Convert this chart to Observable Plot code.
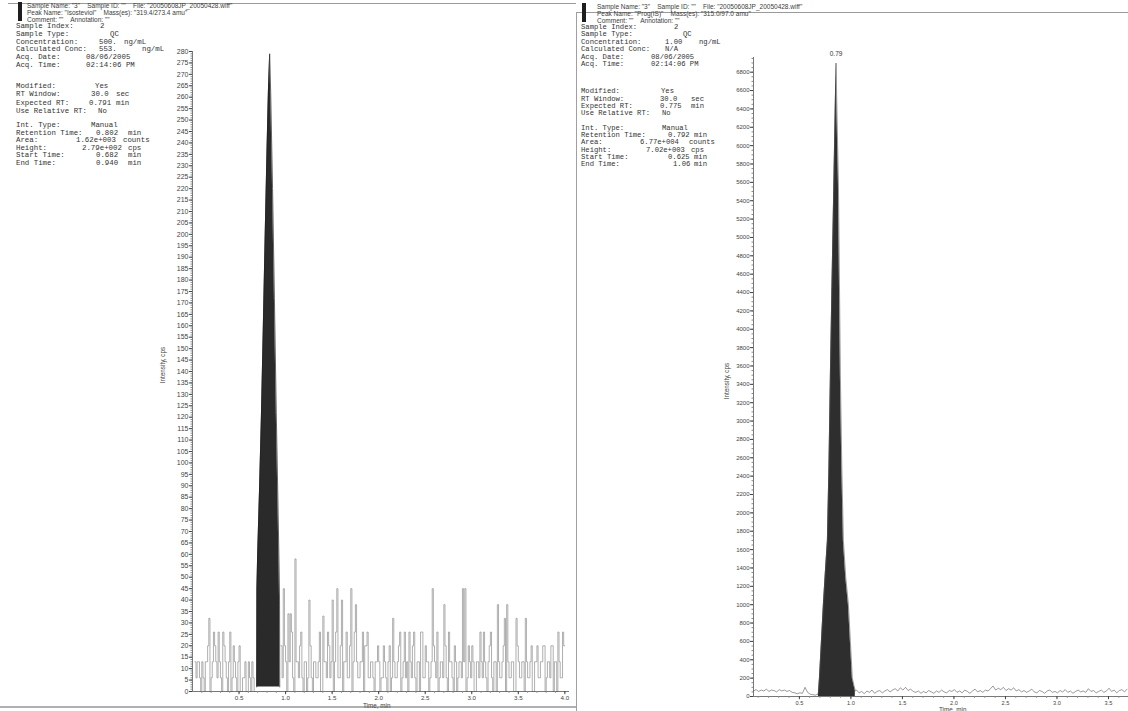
<!DOCTYPE html>
<html>
<head>
<meta charset="utf-8">
<script src="https://cdn.jsdelivr.net/npm/d3@7"></script>
<script src="https://cdn.jsdelivr.net/npm/@observablehq/plot@0.6"></script>
<style>
  html, body { margin: 0; padding: 0; background: #fff; }
  #page { position: relative; width: 1128px; height: 711px; overflow: hidden; background: #fff;
          font-family: "Liberation Sans", Arial, sans-serif; color: #333; }
  .t { position: absolute; white-space: pre; line-height: 8px; height: 8px; }
  .hdr { font-family: "Liberation Sans", Arial, sans-serif; font-size: 6.5px; color: #3c3c3c; }
  .monoL { font-family: "Liberation Mono", "DejaVu Sans Mono", monospace; font-size: 7.4px; color: #333; }
  .monoR { font-family: "Liberation Mono", "DejaVu Sans Mono", monospace; font-size: 7.2px; color: #333; }
  .lab { font-family: "Liberation Sans", Arial, sans-serif; font-size: 6.3px; color: #444; }
  .box { position: absolute; }
  .plot { position: absolute; top: 0; }
</style>
</head>
<body>
<div id="page"></div>
<script>
// ---------------- DATA ----------------
// Left chromatogram: Isosteviol 319.4/273.4 amu (intensity, cps)
const leftStep = 0.025;
const leftNoiseBeforeStart = 0.025;
const leftNoiseBefore = [13,13,6,13,0,13,32,6,26,13,26,6,26,13,0,26,6,13,0,20,0,6,0,13,0,6,0];
const leftNoiseMidBeforeStart = 0.0375;
const leftNoiseMidBefore = [6,13,0,6,13,20,0,13,20,6,13,0,20,6,13,0,20,6,13,0,6,13,0,6,13,0];
const leftNoiseAfterStart = 0.95;
const leftNoiseAfter = [20,45,13,34,34,6,58,13,20,6,13,0,40,6,13,6,13,0,33,13,26,6,40,13,45,6,40,13,26,6,45,13,38,6,13,26,20,26,6,13,0,13,
  13,6,20,6,13,0,32,6,13,26,6,26,13,26,6,26,0,13,26,6,20,13,6,45,13,26,6,13,38,6,26,13,0,13,6,13,45,45,6,13,20,0,13,6,13,26,6,13,26,0,
  13,38,6,13,32,38,6,13,0,32,13,6,13,32,6,13,0,13,20,6,13,20,6,13,20,0,13,26,6,26,20];
const leftNoiseMidAfterStart = 0.9625;
const leftNoiseMidAfter = [6,20,0,13,26,0,13,6,26,0,13,6,20,0,13,6,26,0,13,6,20,13,0,26,6,20,0,13,6,20,0,26,13,6,13,0,20,6,13,6,
  13,20,0,6,13,0,20,6,13,6,20,0,13,6,0,13,20,6,13,0,26,6,13,0,13,20,6,0,13,6,20,0,13,6,20,0,13,6,13,0,20,6,13,0,13,26,6,13,0,20,
  6,13,0,13,6,20,0,13,6,13,0,20,6,13,0,13,6,20,0,13,6,13,20,0,13,6,20,13,0,13,6,20];
const leftPeakTime  = [0.690,0.692,0.700,0.720,0.740,0.760,0.780,0.800,0.815,0.829,0.840,0.860,0.880,0.900,0.920,0.930,0.935,0.937];
const leftPeakValue = [2,45,60,88,120,158,198,236,262,279,262,220,172,122,78,55,40,2];
const leftPeakBase = 2;
const leftXTicks = [0.5,1.0,1.5,2.0,2.5,3.0,3.5,4.0];
const leftYTicks = d3.range(0, 281, 5);

// Right chromatogram: Prog(IS) 315.0/97.0 amu (intensity, cps)
const rightStep = 0.025;
const rightNoiseBeforeStart = 0.055;
const rightNoiseBefore = [60,75,55,70,60,80,55,70,65,50,75,60,70,55,65,45,40,30,40,35,100,45,25,20,15,25];
const rightNoiseAfterStart = 1.055;
const rightNoiseAfter = [70,40,55,30,60,45,70,35,55,65,40,60,75,50,70,85,60,95,70,100,65,80,55,45,60,35,55,40,65,50,35,60,45,70,50,40,
  65,55,75,45,60,40,70,55,35,60,80,50,65,45,70,60,85,115,70,90,75,100,65,85,70,95,60,75,50,65,45,60,80,50,40,65,55,35,60,70,45,55,40,
  65,50,75,45,60,35,55,70,50,60,45,85,55,65,40,55,70,45,60,90,55,70,40,65,75,50,80];
const rightPeakTime  = [0.685,0.695,0.714,0.733,0.752,0.772,0.787,0.801,0.815,0.830,0.843,0.856,0.866,0.879,0.889,0.898,0.912,0.927,0.950,0.976,0.995,1.014,1.030,1.043];
const rightPeakValue = [40,200,600,1000,1350,1700,2500,3500,4400,5300,6100,6900,6300,5600,4500,3500,2500,1700,1300,1000,600,200,120,60];
const rightPeakLabel = "0.79";
const rightXTicks = [0.5,1.0,1.5,2.0,2.5,3.0,3.5];
const rightYTicks = d3.range(0, 6801, 200);

// ---------------- TABLES ----------------
const leftNoise = [
  ...leftNoiseBefore.map((v, i) => ({t: leftNoiseBeforeStart + i * leftStep, v, seg: "a"})),
  ...leftNoiseMidBefore.map((v, i) => ({t: leftNoiseMidBeforeStart + i * leftStep, v, seg: "a"})),
  ...leftNoiseAfter.map((v, i) => ({t: leftNoiseAfterStart + i * leftStep, v, seg: "b"})),
  ...leftNoiseMidAfter.map((v, i) => ({t: leftNoiseMidAfterStart + i * leftStep, v, seg: "b"}))
].sort((a, b) => a.t - b.t);
const leftPeak = leftPeakTime.map((t, i) => ({t, v: leftPeakValue[i]}));
const rightPeak = rightPeakTime.map((t, i) => ({t, v: rightPeakValue[i]}));
const rightTrace = [
  ...rightNoiseBefore.map((v, i) => ({t: rightNoiseBeforeStart + i * rightStep, v})),
  ...rightPeak,
  ...rightNoiseAfter.map((v, i) => ({t: rightNoiseAfterStart + i * rightStep, v}))
];
const apex = rightPeak.reduce((a, b) => (b.v > a.v ? b : a));

const page = document.getElementById("page");
const fmt1 = d3.format(".1f");
const plain = d => String(d);
const baseStyle = {background: "transparent", fontFamily: "Liberation Sans, Arial, sans-serif", overflow: "visible"};

// ---------------- LEFT PLOT ----------------
const leftPlot = Plot.plot({
  width: 576, height: 711,
  marginLeft: 192, marginRight: 7, marginTop: 51, marginBottom: 20,
  x: {domain: [0, 4.05], label: null},
  y: {domain: [0, 280], label: null},
  style: baseStyle,
  marks: [
    Plot.line(leftNoise, {x: "t", y: "v", z: "seg", curve: "step-after", stroke: "#8c8c8c", strokeWidth: 0.7}),
    Plot.areaY(leftPeak, {x: "t", y1: leftPeakBase, y2: "v", fill: "#2a2a2a"}),
    Plot.line(leftPeak, {x: "t", y: "v", stroke: "#222", strokeWidth: 0.7}),
    Plot.ruleX([0], {stroke: "#555", strokeWidth: 0.8}),
    Plot.ruleY([0], {stroke: "#555", strokeWidth: 0.8}),
    Plot.axisY({ticks: d3.range(0, 281, 1), tickSize: 1.5, tickFormat: () => "", stroke: "#888"}),
    Plot.axisY({ticks: leftYTicks, tickSize: 3, tickPadding: 1, fontSize: 7, color: "#444", tickFormat: plain}),
    Plot.axisX({ticks: d3.range(0.1, 4.05, 0.1), tickSize: 1.8, tickFormat: () => "", stroke: "#888"}),
    Plot.axisX({ticks: leftXTicks, tickSize: 3.2, tickPadding: 1, fontSize: 6.2, color: "#444", tickFormat: fmt1})
  ]
});
leftPlot.classList.add("plot");
leftPlot.style.left = "0px";
page.append(leftPlot);

// ---------------- RIGHT PLOT ----------------
const rightPlot = Plot.plot({
  width: 552, height: 711,
  marginLeft: 177, marginRight: 0, marginTop: 57, marginBottom: 15,
  x: {domain: [0.055, 3.694], label: null},
  y: {domain: [0, 6960], label: null},
  style: baseStyle,
  marks: [
    Plot.areaY(rightPeak, {x: "t", y: "v", fill: "#2e2e2e"}),
    Plot.line(rightTrace, {x: "t", y: "v", stroke: "#555", strokeWidth: 0.6}),
    Plot.ruleX([0.055], {stroke: "#555", strokeWidth: 0.8}),
    Plot.ruleY([0], {stroke: "#555", strokeWidth: 0.8}),
    Plot.axisY({ticks: d3.range(0, 6951, 50), tickSize: 1.5, tickFormat: () => "", stroke: "#888"}),
    Plot.axisY({ticks: rightYTicks, tickSize: 3, tickPadding: 1, fontSize: 6, color: "#444", tickFormat: plain}),
    Plot.axisX({ticks: d3.range(0.1, 3.65, 0.1), tickSize: 1.8, tickFormat: () => "", stroke: "#888"}),
    Plot.axisX({ticks: rightXTicks, tickSize: 3.2, tickPadding: 1.5, fontSize: 5.6, color: "#444", tickFormat: fmt1}),
    Plot.text([apex], {x: "t", y: "v", text: () => rightPeakLabel, dy: -9, fontSize: 6.5, fill: "#333"})
  ]
});
rightPlot.classList.add("plot");
rightPlot.style.left = "576px";
page.append(rightPlot);

// ---------------- TEXT / FRAME ----------------
function txt(x, y, s, cls, extra) {
  const d = document.createElement("div");
  d.className = "t " + cls;
  d.style.left = x + "px";
  d.style.top = (y - 4) + "px";
  d.textContent = s;
  if (extra) Object.assign(d.style, extra);
  page.append(d);
  return d;
}
function box(x, y, w, h, color) {
  const d = document.createElement("div");
  d.className = "box";
  Object.assign(d.style, {left: x + "px", top: y + "px", width: w + "px", height: h + "px", background: color});
  page.append(d);
}

// frame lines (scan page edges)
box(8, 3, 568, 1, "#9a9a9a");
box(0, 706, 576, 2, "#b0b0b0");
box(576, 12, 1, 699, "#a0a0a0");
box(577, 12, 551, 1, "#9a9a9a");
box(18, 2, 3.5, 19, "#1e1e1e");
box(582, 3, 3.5, 19, "#1e1e1e");

// left header
txt(27, 6, 'Sample Name: "3"    Sample ID: ""    File: "20050608JP_20050428.wiff"', "hdr");
txt(27, 13, 'Peak Name: "Isosteviol"    Mass(es): "319.4/273.4 amu"', "hdr");
txt(27, 20, 'Comment: ""    Annotation: ""', "hdr");
const leftInfo = [
  [26, [[16, "Sample Index:"], [100, "2"]]],
  [34, [[16, "Sample Type:"], [110, "QC"]]],
  [42, [[16, "Concentration:"], [99, "500."], [124, "ng/mL"]]],
  [49, [[16, "Calculated Conc:"], [99, "553."], [142, "ng/mL"]]],
  [57, [[16, "Acq. Date:"], [86, "08/06/2005"]]],
  [65, [[16, "Acq. Time:"], [86, "02:14:06 PM"]]],
  [86, [[16, "Modified:"], [95, "Yes"]]],
  [94, [[16, "RT Window:"], [91, "30.0"], [116, "sec"]]],
  [103, [[16, "Expected RT:"], [89, "0.791"], [116, "min"]]],
  [111, [[16, "Use Relative RT:"], [98, "No"]]],
  [125, [[16, "Int. Type:"], [91, "Manual"]]],
  [133, [[16, "Retention Time:"], [96, "0.802"], [128, "min"]]],
  [140, [[16, "Area:"], [76, "1.62e+003"], [123, "counts"]]],
  [148, [[16, "Height:"], [82, "2.79e+002"], [128, "cps"]]],
  [155, [[16, "Start Time:"], [96, "0.682"], [128, "min"]]],
  [163, [[16, "End Time:"], [96, "0.940"], [128, "min"]]]
];
leftInfo.forEach(([y, cells]) => cells.forEach(([x, s]) => txt(x, y, s, "monoL")));

// right header
txt(597, 7, 'Sample Name: "3"    Sample ID: ""    File: "20050608JP_20050428.wiff"', "hdr");
txt(597, 14, 'Peak Name: "Prog(IS)"    Mass(es): "315.0/97.0 amu"', "hdr");
txt(597, 20.5, 'Comment: ""    Annotation: ""', "hdr");
const rightInfo = [
  [27, [[581, "Sample Index:"], [674, "2"]]],
  [34, [[581, "Sample Type:"], [683, "QC"]]],
  [42, [[581, "Concentration:"], [665, "1.00"], [699, "ng/mL"]]],
  [49, [[581, "Calculated Conc:"], [665, "N/A"]]],
  [57, [[581, "Acq. Date:"], [651, "08/06/2005"]]],
  [64, [[581, "Acq. Time:"], [651, "02:14:06 PM"]]],
  [90.5, [[581, "Modified:"], [661, "Yes"]]],
  [98.5, [[581, "RT Window:"], [660, "30.0"], [691, "sec"]]],
  [106, [[581, "Expected RT:"], [660, "0.775"], [691, "min"]]],
  [113, [[581, "Use Relative RT:"], [662, "No"]]],
  [127.5, [[581, "Int. Type:"], [662, "Manual"]]],
  [135, [[581, "Retention Time:"], [668, "0.792"], [694, "min"]]],
  [142, [[581, "Area:"], [640, "6.77e+004"], [689, "counts"]]],
  [149.5, [[581, "Height:"], [646, "7.02e+003"], [691, "cps"]]],
  [156.5, [[581, "Start Time:"], [668, "0.625"], [694, "min"]]],
  [164, [[581, "End Time:"], [673, "1.06"], [694, "min"]]]
];
rightInfo.forEach(([y, cells]) => cells.forEach(([x, s]) => txt(x, y, s, "monoR")));

// axis titles
txt(363, 706, "Time, min", "lab");
txt(939, 709.5, "Time, min", "lab");
txt(143, 365, "Intensity, cps", "lab", {transform: "rotate(-90deg)", width: "40px", textAlign: "center"});
txt(707, 381, "Intensity, cps", "lab", {transform: "rotate(-90deg)", width: "40px", textAlign: "center"});
</script>
</body>
</html>
